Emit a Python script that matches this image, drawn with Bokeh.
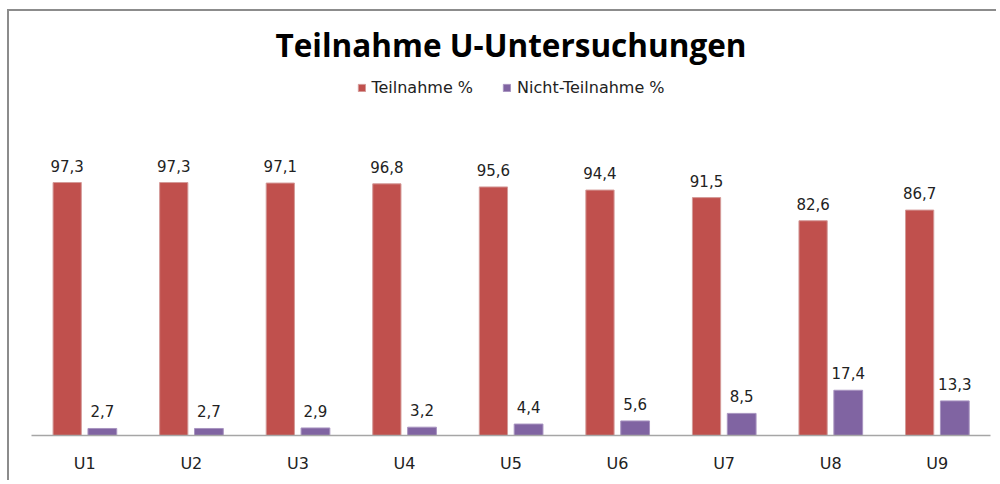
from bokeh.plotting import figure
from bokeh.models import ColumnDataSource, FactorRange, Range1d, LabelSet, Label, Legend, LegendItem
from bokeh.core.properties import value
from bokeh.transform import dodge
from bokeh.embed import file_html
from bokeh.resources import INLINE

categories = ["U1", "U2", "U3", "U4", "U5", "U6", "U7", "U8", "U9"]
teilnahme = [97.3, 97.3, 97.1, 96.8, 95.6, 94.4, 91.5, 82.6, 86.7]
nicht_teilnahme = [2.7, 2.7, 2.9, 3.2, 4.4, 5.6, 8.5, 17.4, 13.3]
title_text = "Teilnahme U-Untersuchungen"
series_names = ["Teilnahme %", "Nicht-Teilnahme %"]

RED = "#C0504D"
PURPLE = "#8064A2"

src = ColumnDataSource(dict(
    cat=categories,
    t=teilnahme,
    n=nicht_teilnahme,
    tl=[f"{v:.1f}".replace(".", ",") for v in teilnahme],
    nl=[f"{v:.1f}".replace(".", ",") for v in nicht_teilnahme],
))

p = figure(x_range=FactorRange(*categories), y_range=Range1d(0, 163.08),
           width=989, height=471, output_backend="svg", toolbar_location=None,
           title_location=None,
           min_border_left=22, min_border_right=8, min_border_top=0, min_border_bottom=47)
p.styles = {"margin-left": "7px", "margin-top": "9px",
            "border-left": "2px solid #8c8c8c", "border-top": "2px solid #8c8c8c"}

r1 = p.vbar(x=dodge("cat", -0.165, range=p.x_range), top="t", width=0.265, source=src,
            fill_color=RED, line_color="#d49a98", line_width=1)
r2 = p.vbar(x=dodge("cat", 0.165, range=p.x_range), top="n", width=0.27, source=src,
            fill_color=PURPLE, line_color="#a894c0", line_width=1)

for col, lab, off in (("t", "tl", -0.165), ("n", "nl", 0.165)):
    ls = LabelSet(x=dodge("cat", off, range=p.x_range), y=col, text=lab, source=src,
                  text_align="center", text_baseline="alphabetic", y_offset=11,
                  text_font=value("DejaVu Sans"), text_font_size=value("15px"),
                  text_color="#222222")
    p.add_layout(ls)

p.add_layout(Label(x=4.5, y=150.4, text=title_text, text_align="center", text_baseline="alphabetic",
                   text_font="Open Sans", text_font_style="bold", text_font_size="31.5px",
                   text_color="#000000"))

legend = Legend(items=[LegendItem(label=series_names[0], renderers=[r1]),
                       LegendItem(label=series_names[1], renderers=[r2])],
                orientation="horizontal", location="top_center", margin=67, padding=0,
                label_text_font="DejaVu Sans", label_text_font_size="16px", label_text_color="#222222",
                glyph_width=9, glyph_height=9, label_standoff=6, spacing=29,
                border_line_color=None, background_fill_alpha=0)
p.add_layout(legend, "center")

p.yaxis.visible = False
p.xgrid.visible = False
p.ygrid.visible = False
p.outline_line_color = None
p.xaxis.axis_line_color = "#a6a6a6"
p.xaxis.axis_line_width = 1.5
p.xaxis.major_tick_line_color = None
p.xaxis.minor_tick_line_color = None
p.xaxis.major_tick_out = 0
p.xaxis.major_tick_in = 0
p.xaxis.major_label_standoff = 18
p.xaxis.major_label_text_font = "DejaVu Sans"
p.xaxis.major_label_text_font_size = "16px"
p.xaxis.major_label_text_color = "#222222"

open("out.html", "w").write(file_html(p, INLINE))
